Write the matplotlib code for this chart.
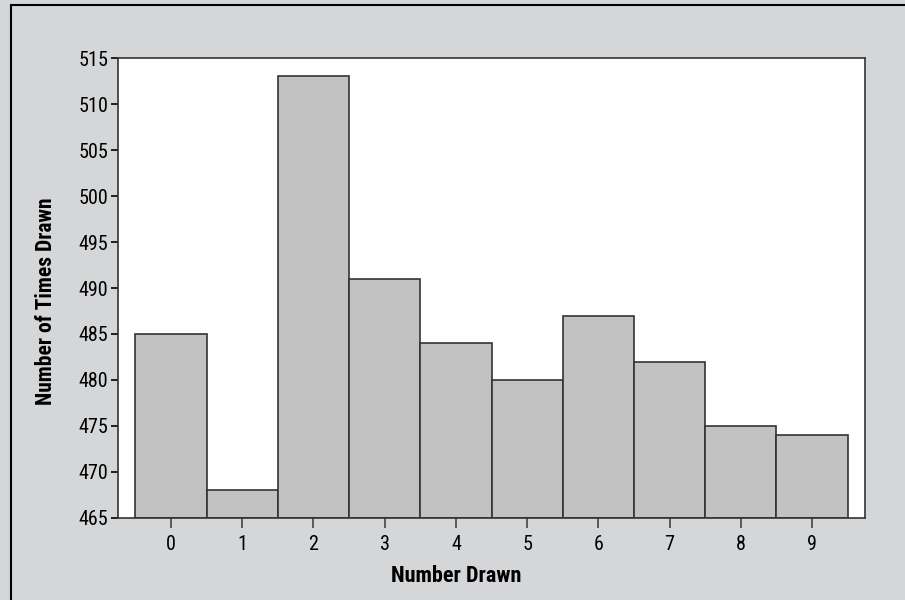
import matplotlib
matplotlib.use("Agg")
import matplotlib.pyplot as plt
from matplotlib.patches import Rectangle

# --- Data ---
numbers = [0, 1, 2, 3, 4, 5, 6, 7, 8, 9]
times_drawn = [485, 468, 513, 491, 484, 480, 487, 482, 475, 474]
y_ticks = [465, 470, 475, 480, 485, 490, 495, 500, 505, 510, 515]

plt.rcParams["font.family"] = ["Roboto Condensed", "DejaVu Sans"]

BG = "#d5d6d8"
BAR = "#c2c2c2"
EDGE = "#333333"

fig = plt.figure(figsize=(9.05, 6), dpi=100, facecolor=BG)
ax = fig.add_axes([0.1304, 0.1367, 0.8254, 0.7666])
ax.set_facecolor("white")

# bars start at the bottom of the axis (465)
base = y_ticks[0]
ax.bar(numbers, [v - base for v in times_drawn], bottom=base, width=1.0,
       color=BAR, edgecolor=EDGE, linewidth=1.2)

ax.set_xlim(-0.745, 9.745)
ax.set_ylim(465, 515)
ax.set_xticks(numbers)
ax.set_yticks(y_ticks)
ax.tick_params(axis="both", labelsize=14.5, colors="black", width=1.2)
ax.tick_params(axis="x", length=7, pad=5, color="#444444")
ax.tick_params(axis="y", length=5, pad=2)

for s in ax.spines.values():
    s.set_linewidth(1.2)
    s.set_color(EDGE)

# axis titles sit a bit off-centre in the original, so place them directly
fig.text(456 / 905, 1 - 582 / 600, "Number Drawn", fontsize=16,
         fontweight="bold", ha="center", va="baseline")
fig.text(46 / 905, 1 - 301 / 600, "Number of Times Drawn", fontsize=15.5,
         fontweight="bold", ha="center", va="center", rotation=90)

# outer frame line on left and top of the figure
fig.add_artist(Rectangle((10.5 / 905, -0.01), 1.1, (600 - 4.5) / 600 + 0.01,
                         transform=fig.transFigure, fill=False,
                         edgecolor="black", linewidth=1.5, clip_on=False))

fig.savefig("out.png", dpi=100, facecolor=BG)
